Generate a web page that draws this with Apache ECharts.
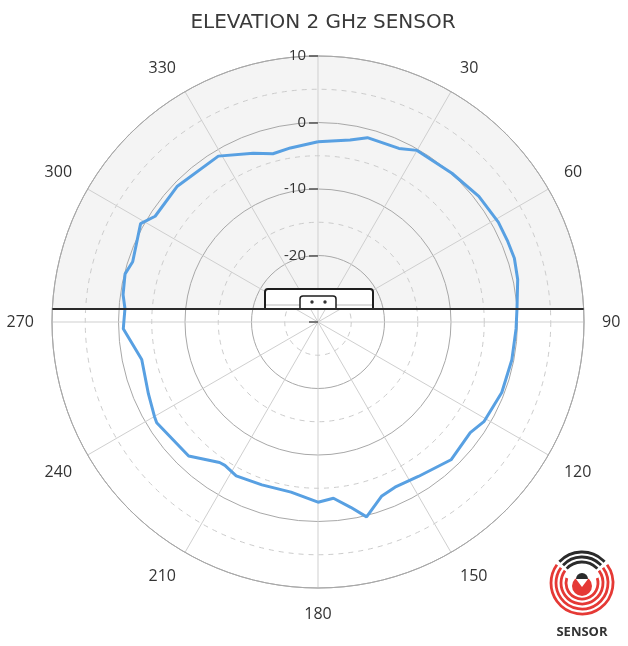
<!DOCTYPE html>
<html>
<head>
<meta charset="utf-8">
<script src="https://cdn.jsdelivr.net/npm/echarts@6/dist/echarts.min.js"></script>
<style>
  html, body { margin: 0; padding: 0; background: #fff; }
  #chart { width: 628px; height: 646px; }
</style>
</head>
<body>
<div id="chart"></div>
<script>
// Data (angle in degrees, clockwise from top; gain in dB)
const angles = [0, 10, 15, 25, 30, 42, 52, 61, 67, 72, 78, 86, 92, 101, 111, 121, 126, 136, 147, 155,
  160, 166, 170, 175, 180, 189, 199, 208, 213, 215, 224, 238, 240, 247, 258, 268, 274, 278, 284, 288,
  299, 303, 314, 329, 339, 345, 351, 360];
const gains = [-2.9, -2.2, -1.3, -1.2, -0.2, 0.1, 0.7, 1.0, 1.0, 1.05, 0.7, 0.0, -0.2, -0.3, -0.4, -0.9, -1.7, -1.2, -2.3, -2.6,
  -2.1, 0.2, -1.7, -3.4, -2.9, -4.1, -4.1, -3.8, -4.3, -4.2, -2.0, -1.4, -1.6, -2.3, -2.9, -0.7, -0.9, -0.4, -0.1, -0.7,
  0.5, -0.8, -0.6, -0.9, -2.8, -3.8, -3.5, -2.9];
const angleTicks = [30, 60, 90, 120, 150, 180, 210, 240, 270, 300, 330];
const radiusTicks = [-20, -10, 0, 10];
const titleText = 'ELEVATION 2 GHz SENSOR';
const logoText = 'SENSOR';

const CX = 318, CY = 322, R = 266;
const chordY = 309;
const chordHalf = Math.sqrt(R * R - (CY - chordY) * (CY - chordY));

const chart = echarts.init(document.getElementById('chart'), null, { renderer: 'canvas' });

const data = angles.map((a, i) => [gains[i], a]);

// logo geometry
const LX = 582, LY = 583;
const red = '#e53935', dark = '#2b2b2b';
const logo = [];
[31, 26, 21].forEach((r) => {
  logo.push({ type: 'arc', z: 60, shape: { cx: LX, cy: LY, r: r, startAngle: -Math.PI * 0.2, endAngle: Math.PI * 1.2, clockwise: true },
    style: { stroke: red, lineWidth: 2.8, fill: null } });
  logo.push({ type: 'arc', z: 60, shape: { cx: LX, cy: LY, r: r, startAngle: -Math.PI * 0.76, endAngle: -Math.PI * 0.24, clockwise: true },
    style: { stroke: dark, lineWidth: 2.8, fill: null } });
});
logo.push({ type: 'arc', z: 60, shape: { cx: LX, cy: LY, r: 16, startAngle: -Math.PI * 0.1, endAngle: Math.PI * 1.1, clockwise: true },
  style: { stroke: red, lineWidth: 2.8, fill: null } });
logo.push({ type: 'circle', z: 60, shape: { cx: LX, cy: LY + 3, r: 10 }, style: { fill: red } });
logo.push({ type: 'polygon', z: 61, shape: { points: [[LX - 9, LY - 8], [LX + 9, LY - 8], [LX, LY + 4]] }, style: { fill: '#fff' } });
logo.push({ type: 'sector', z: 62, shape: { cx: LX, cy: LY - 4, r: 6, startAngle: Math.PI, endAngle: 2 * Math.PI }, style: { fill: dark } });
logo.push({ type: 'text', z: 62, x: LX, y: 632, style: { text: logoText, fill: '#333', font: 'bold 13px "Open Sans", sans-serif', align: 'center', verticalAlign: 'middle' } });

const option = {
  backgroundColor: '#fff',
  animation: false,
  title: {
    text: titleText,
    left: 318,
    top: 8,
    textAlign: 'center',
    textStyle: { fontFamily: '"DejaVu Sans", sans-serif', fontSize: 20, fontWeight: 'normal', color: '#3a3a3a' }
  },
  polar: { center: [CX, CY], radius: R },
  angleAxis: {
    type: 'value', min: 0, max: 360, interval: 30, startAngle: 90, clockwise: true, z: 1,
    axisLine: { show: true, lineStyle: { color: '#a8a8a8', width: 1 } },
    axisTick: { show: false },
    axisLabel: {
      show: true, margin: 18, color: '#333', fontSize: 16, fontFamily: '"Open Sans", sans-serif',
      formatter: (v) => (angleTicks.indexOf(v) >= 0 ? String(v) : '')
    },
    splitLine: { show: true, lineStyle: { color: '#cfcfcf', width: 1 } }
  },
  radiusAxis: {
    type: 'value', min: -30, max: 10, interval: 10, z: 1,
    axisLine: { show: false },
    axisTick: { show: true, length: 9, lineStyle: { color: '#555', width: 1.5 } },
    axisLabel: {
      show: true, margin: 12, color: '#333', fontSize: 15, fontFamily: '"Open Sans", sans-serif',
      formatter: (v) => (radiusTicks.indexOf(v) >= 0 ? String(v) : '')
    },
    splitLine: { show: true, lineStyle: { color: '#a8a8a8', width: 1 } },
    minorTick: { show: false, splitNumber: 2 },
    minorSplitLine: { show: true, lineStyle: { color: '#cccccc', width: 1, type: [5, 5] } }
  },
  series: [{
    type: 'line', coordinateSystem: 'polar', data: data, symbol: 'none', smooth: false, z: 5,
    lineStyle: { color: '#58a0e2', width: 3 }
  }],
  graphic: [
    { type: 'sector', silent: true, z: -3, shape: { cx: CX, cy: CY, r: R, startAngle: Math.PI, endAngle: 2 * Math.PI }, style: { fill: '#f4f4f4' } },
    { type: 'rect', silent: true, z: -2, shape: { x: CX - R - 2, y: chordY, width: 2 * R + 4, height: CY - chordY }, style: { fill: '#fff' } },
    { type: 'line', silent: true, z: 50, shape: { x1: CX - chordHalf, y1: chordY, x2: CX + chordHalf, y2: chordY }, style: { stroke: '#2a2a2a', lineWidth: 2 } },
    { type: 'rect', silent: true, z: 40, shape: { x: 265, y: 289, width: 108, height: 20, r: [3, 3, 0, 0] }, style: { fill: '#fff', stroke: '#1e1e1e', lineWidth: 2 } },
    { type: 'line', silent: true, z: 41, shape: { x1: 266, y1: 305, x2: 372, y2: 305 }, style: { stroke: '#bbbbbb', lineWidth: 1 } },
    { type: 'rect', silent: true, z: 42, shape: { x: 300, y: 296, width: 36, height: 13, r: [3, 3, 0, 0] }, style: { fill: '#fff', stroke: '#1e1e1e', lineWidth: 1.5 } },
    { type: 'circle', silent: true, z: 43, shape: { cx: 312, cy: 302, r: 1.7 }, style: { fill: '#333' } },
    { type: 'circle', silent: true, z: 43, shape: { cx: 325, cy: 302, r: 1.7 }, style: { fill: '#333' } }
  ].concat(logo.map(e => Object.assign({ silent: true }, e)))
};
chart.setOption(option);
</script>
</body>
</html>
